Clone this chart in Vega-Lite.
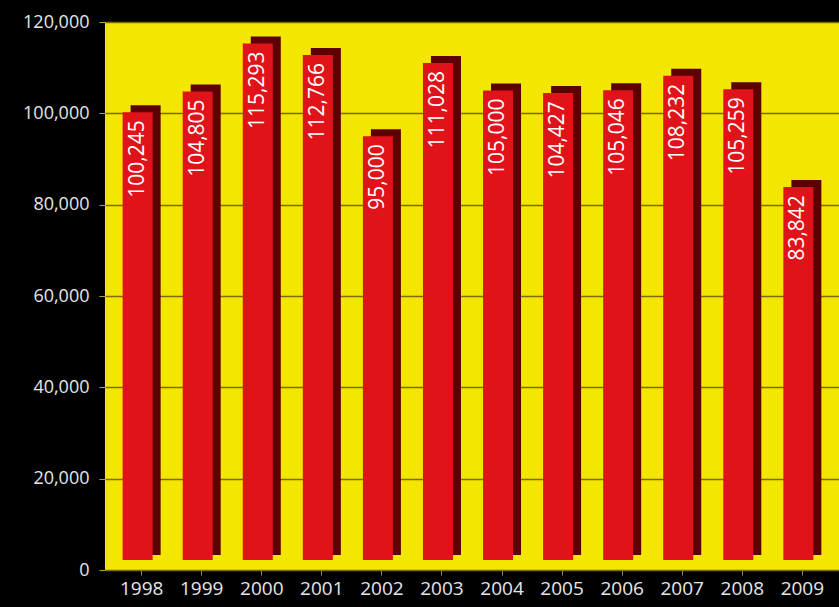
{
  "$schema": "https://vega.github.io/schema/vega-lite/v6.json",
  "width": 734,
  "height": 548,
  "autosize": "none",
  "padding": {"left": 105, "top": 22, "right": 0, "bottom": 37},
  "background": "#000000",
  "config": {
    "view": {"fill": "#f3e600", "stroke": null},
    "font": "Open Sans"
  },
  "data": {
    "values": [
      {"year": "1998", "value": 100245},
      {"year": "1999", "value": 104805},
      {"year": "2000", "value": 115293},
      {"year": "2001", "value": 112766},
      {"year": "2002", "value": 95000},
      {"year": "2003", "value": 111028},
      {"year": "2004", "value": 105000},
      {"year": "2005", "value": 104427},
      {"year": "2006", "value": 105046},
      {"year": "2007", "value": 108232},
      {"year": "2008", "value": 105259},
      {"year": "2009", "value": 83842}
    ]
  },
  "encoding": {
    "x": {
      "field": "year",
      "type": "nominal",
      "scale": {"paddingInner": 0.38, "paddingOuter": 0.3},
      "axis": {
        "title": null,
        "labelAngle": 0,
        "labelColor": "#e6e6e6",
        "labelFontSize": 19,
        "labelPadding": 4,
        "domain": false,
        "tickColor": "#8a8a6a",
        "tickSize": 5
      }
    },
    "y": {
      "field": "value",
      "type": "quantitative",
      "stack": null,
      "scale": {"domain": [0, 120000], "nice": false},
      "axis": {
        "title": null,
        "values": [0, 20000, 40000, 60000, 80000, 100000, 120000],
        "format": ",d",
        "labelColor": "#e6e6e6",
        "labelFontSize": 18,
        "labelPadding": 10,
        "domain": false,
        "tickColor": "#b8a030",
        "tickSize": 6,
        "gridColor": "#7d6a00",
        "gridWidth": 1.3
      }
    }
  },
  "layer": [
    {
      "mark": {"type": "bar", "color": "#5e0000", "width": 30, "xOffset": 4, "yOffset": -7, "y2Offset": -15},
      "encoding": {"y2": {"datum": 0}}
    },
    {
      "mark": {"type": "bar", "color": "#e0121a", "width": 30, "xOffset": -4, "y2Offset": -10},
      "encoding": {"y2": {"datum": 0}}
    },
    {
      "mark": {
        "type": "text",
        "angle": 270,
        "align": "right",
        "baseline": "middle",
        "color": "#ffffff",
        "fontSize": 21,
        "dx": -8,
        "xOffset": -4
      },
      "encoding": {
        "text": {"field": "value", "type": "quantitative", "format": ",d"}
      }
    }
  ]
}
